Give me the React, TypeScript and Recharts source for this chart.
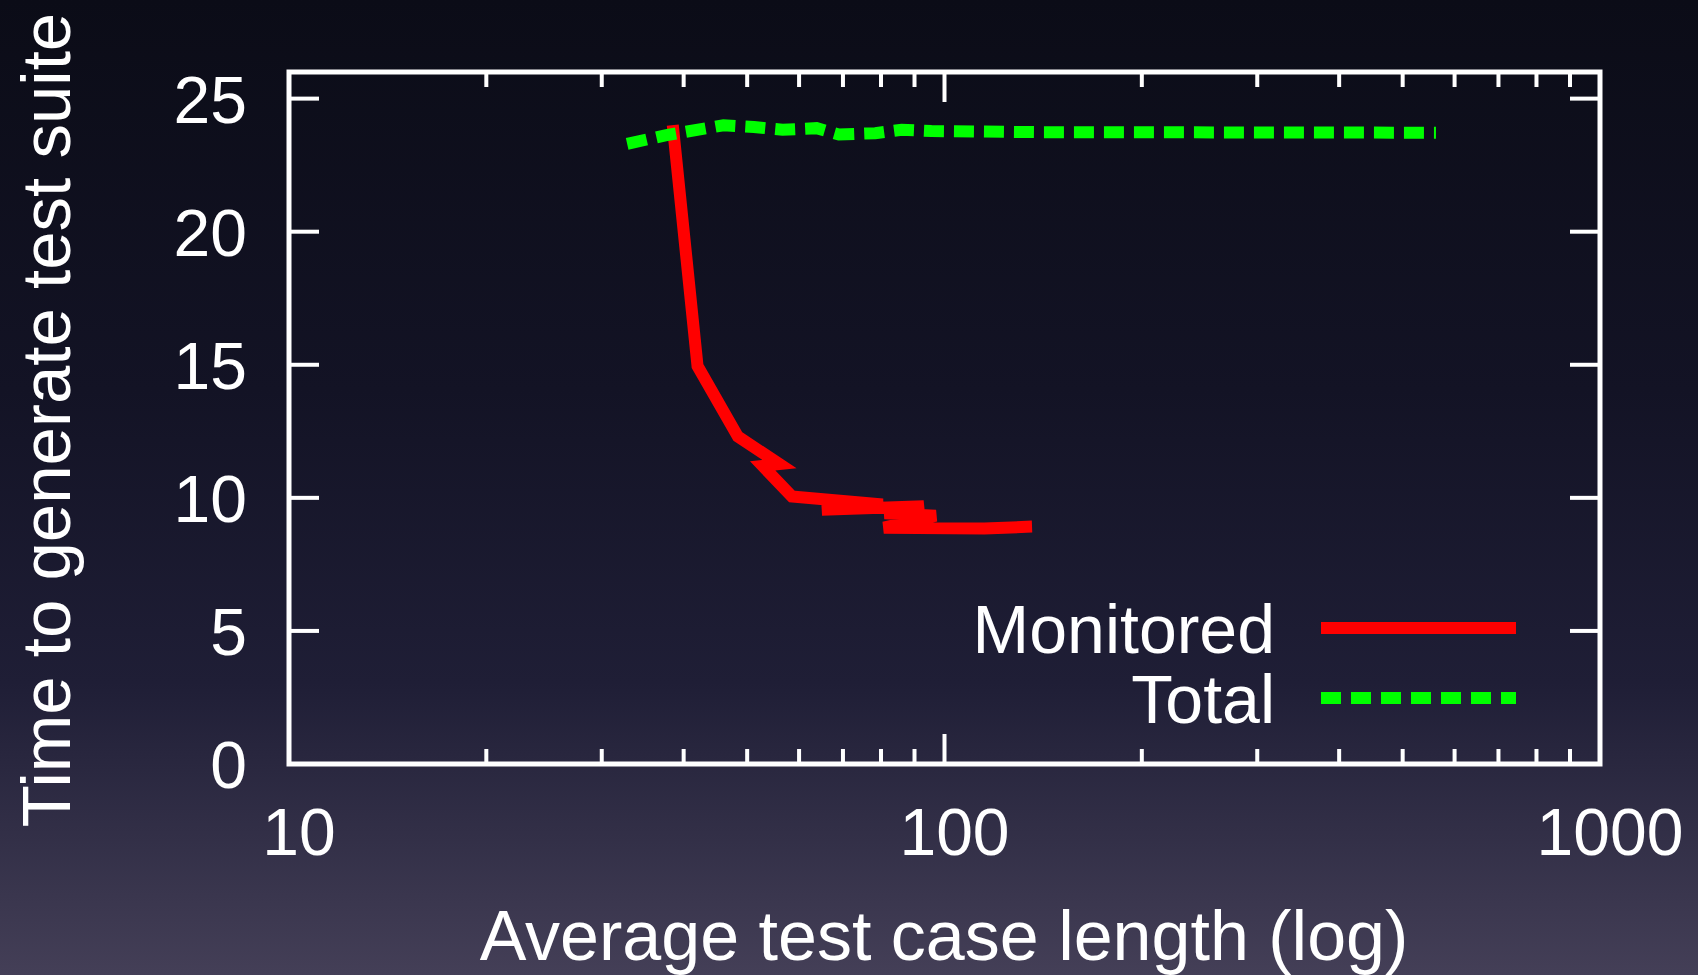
import React from "react";
import { LineChart, Line, XAxis, YAxis, ReferenceArea, Legend } from "recharts";

// average test case length (x, log) vs time to generate the suite (y)
const monitoredLength = [38.5, 42.0, 48.4, 56.0, 52.8, 58.5, 80.5, 65.0, 93.0, 81.0, 97.0, 80.8, 115, 136];
const monitoredTime = [24.0, 14.95, 12.3, 11.27, 11.2, 10.05, 9.75, 9.55, 9.68, 9.42, 9.33, 8.88, 8.85, 8.92];

const totalLength = [32.8, 37.5, 46.0, 51.2, 56.6, 63.8, 69.0, 78.4, 86.0, 95.5, 140, 562];
const totalTime = [23.3, 23.62, 24.0, 23.93, 23.83, 23.89, 23.65, 23.7, 23.83, 23.78, 23.74, 23.72];

const xTicks = [10, 20, 30, 40, 50, 60, 70, 80, 90, 100, 200, 300, 400, 500, 600, 700, 800, 900, 1000];
const xLabels = [10, 100, 1000];
const yTicks = [0, 5, 10, 15, 20, 25];

const monitored = monitoredLength.map((x, i) => ({ x, y: monitoredTime[i] }));
const total = totalLength.map((x, i) => ({ x, y: totalTime[i] }));

const FONT = "'Liberation Sans', Arial, Helvetica, sans-serif";
const MAJOR = 30;
const MINOR = 15;

const BottomTick = (props: any) => {
  const { x, y, payload } = props;
  const major = xLabels.includes(payload.value);
  return (
    <g>
      <line x1={x} x2={x} y1={y} y2={y - (major ? MAJOR : MINOR)} stroke="#fff" strokeWidth={4} />
      {major && (
        <text x={x + 10} y={y + 91} textAnchor="middle" fill="#fff" fontSize={66} fontFamily={FONT}>
          {payload.value}
        </text>
      )}
    </g>
  );
};

const TopTick = (props: any) => {
  const { x, y, payload } = props;
  const major = xLabels.includes(payload.value);
  return <line x1={x} x2={x} y1={y} y2={y + (major ? MAJOR : MINOR)} stroke="#fff" strokeWidth={4} />;
};

const LeftTick = (props: any) => {
  const { x, y, payload } = props;
  return (
    <g>
      <line x1={x} x2={x + MAJOR} y1={y} y2={y} stroke="#fff" strokeWidth={4} />
      <text x={x - 42} y={y + 24} textAnchor="end" fill="#fff" fontSize={66} fontFamily={FONT}>
        {payload.value}
      </text>
    </g>
  );
};

const RightTick = (props: any) => {
  const { x, y } = props;
  return <line x1={x - MAJOR} x2={x} y1={y} y2={y} stroke="#fff" strokeWidth={4} />;
};

const LegendBox = (props: any) => {
  const { payload = [] } = props;
  return (
    <svg width={620} height={175} style={{ display: "block" }}>
      {payload.map((entry: any, i: number) => {
        const cy = 58 + i * 70;
        return (
          <g key={entry.value}>
            <text x={325} y={cy + 25} textAnchor="end" fill="#fff" fontSize={68} fontFamily={FONT}>
              {entry.value}
            </text>
            <line
              x1={371}
              x2={566}
              y1={cy}
              y2={cy}
              stroke={entry.color}
              strokeWidth={12}
              strokeDasharray={entry.payload?.strokeDasharray}
            />
          </g>
        );
      })}
    </svg>
  );
};

export default function App() {
  return (
    <div
      style={{
        position: "absolute",
        left: 0,
        top: 0,
        width: 1698,
        height: 975,
        overflow: "hidden",
        background: "linear-gradient(to bottom, #0b0c17 0%, #131325 40%, #1f1e36 70%, #443f57 100%)",
      }}
    >
      <LineChart width={1698} height={975} margin={{ top: 71, right: 97, bottom: 210, left: 288 }}>
        <XAxis
          xAxisId="bottom"
          dataKey="x"
          type="number"
          scale="log"
          domain={[10, 1000]}
          allowDataOverflow
          ticks={xTicks}
          interval={0}
          tickSize={0}
          tickMargin={0}
          height={1}
          axisLine={false}
          tickLine={false}
          tick={<BottomTick />}
        />
        <XAxis
          xAxisId="top"
          orientation="top"
          dataKey="x"
          type="number"
          scale="log"
          domain={[10, 1000]}
          allowDataOverflow
          ticks={xTicks}
          interval={0}
          tickSize={0}
          tickMargin={0}
          height={1}
          axisLine={false}
          tickLine={false}
          tick={<TopTick />}
        />
        <YAxis
          yAxisId="left"
          type="number"
          domain={[0, 26]}
          allowDataOverflow
          ticks={yTicks}
          interval={0}
          tickSize={0}
          tickMargin={0}
          width={1}
          axisLine={false}
          tickLine={false}
          tick={<LeftTick />}
        />
        <YAxis
          yAxisId="right"
          orientation="right"
          type="number"
          domain={[0, 26]}
          allowDataOverflow
          ticks={yTicks}
          interval={0}
          tickSize={0}
          tickMargin={0}
          width={1}
          axisLine={false}
          tickLine={false}
          tick={<RightTick />}
        />
        <ReferenceArea
          xAxisId="bottom"
          yAxisId="left"
          x1={10}
          x2={1000}
          y1={0}
          y2={26}
          fill="none"
          fillOpacity={0}
          stroke="#fff"
          strokeWidth={5}
          ifOverflow="visible"
        />
        <Line
          xAxisId="bottom"
          yAxisId="left"
          data={monitored}
          dataKey="y"
          name="Monitored"
          type="linear"
          stroke="#ff0000"
          strokeWidth={12}
          strokeLinejoin="miter"
          strokeMiterlimit={5}
          dot={false}
          activeDot={false}
          isAnimationActive={false}
        />
        <Line
          xAxisId="bottom"
          yAxisId="left"
          data={total}
          dataKey="y"
          name="Total"
          type="linear"
          stroke="#00ff00"
          strokeWidth={12}
          strokeDasharray="20 10"
          strokeLinejoin="miter"
          dot={false}
          activeDot={false}
          isAnimationActive={false}
        />
        <Legend
          layout="vertical"
          align="center"
          verticalAlign="middle"
          content={<LegendBox />}
          wrapperStyle={{ position: "absolute", left: 950, top: 570, width: 620, height: 175 }}
        />
        <text
          x={70}
          y={420}
          transform="rotate(-90, 70, 420)"
          textAnchor="middle"
          fill="#fff"
          fontSize={69}
          fontFamily={FONT}
        >
          Time to generate test suite
        </text>
        <text x={944} y={960} textAnchor="middle" fill="#fff" fontSize={70} fontFamily={FONT}>
          Average test case length (log)
        </text>
      </LineChart>
    </div>
  );
}
